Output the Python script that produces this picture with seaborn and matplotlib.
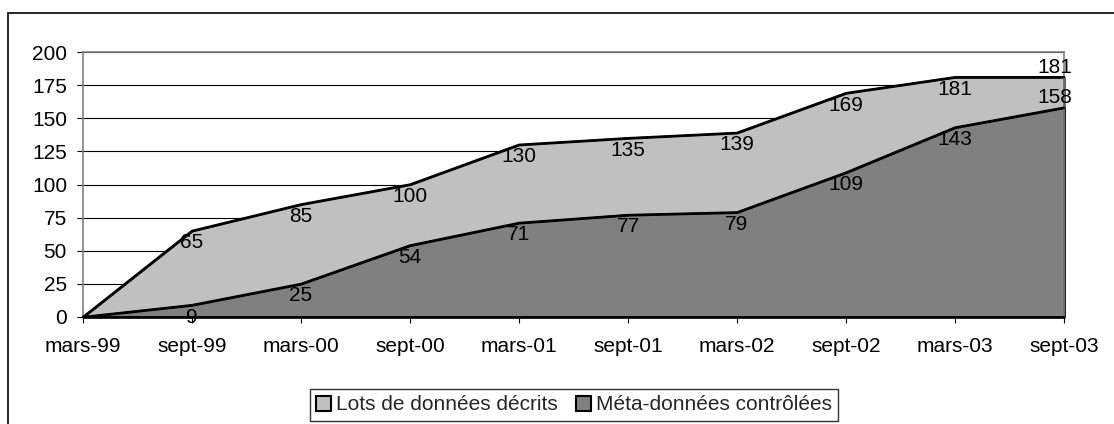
import matplotlib
matplotlib.use('Agg')
import matplotlib.pyplot as plt
import matplotlib.patches as mpatches
import seaborn as sns
import pandas as pd

# data
periods = ['mars-99', 'sept-99', 'mars-00', 'sept-00', 'mars-01',
           'sept-01', 'mars-02', 'sept-02', 'mars-03', 'sept-03']
lots_decrits = [0, 65, 85, 100, 130, 135, 139, 169, 181, 181]
meta_controlees = [0, 9, 25, 54, 71, 77, 79, 109, 143, 158]
series_names = ['Lots de données décrits', 'Méta-données contrôlées']
series_colors = ['#C0C0C0', '#808080']
y_ticks = list(range(0, 201, 25))

df = pd.DataFrame({'pos': range(len(periods)), 'periode': periods,
                   series_names[0]: lots_decrits,
                   series_names[1]: meta_controlees})
long_df = df.melt(id_vars=['pos', 'periode'], var_name='serie', value_name='valeur')

sns.set_theme(style='white')
plt.rcParams['font.family'] = ['Liberation Sans', 'DejaVu Sans']
FS = 15

W, H = 1114, 424
fig = plt.figure(figsize=(W / 100, H / 100), dpi=100)
ax = fig.add_axes([83 / W, 1 - 317 / H, (1064 - 83) / W, (317 - 52) / H])

# outer chart frame (runs off the right and bottom edges)
fig.patches.append(mpatches.Rectangle((8 / W, -0.05), 1.2, 1 - 13 / H + 0.05,
                                      transform=fig.transFigure, fill=False,
                                      edgecolor='black', linewidth=1.2, zorder=0))

# gridlines behind areas
for t in y_ticks[1:]:
    ax.axhline(t, color='black', linewidth=0.8, zorder=1)

for name, col in zip(series_names, series_colors):
    ax.fill_between(df['pos'], df[name], 0, facecolor=col, edgecolor='black',
                    linewidth=1.6, zorder=2, clip_on=False)

sns.lineplot(data=long_df, x='pos', y='valeur', hue='serie',
             palette=['black', 'black'], linewidth=1.6, legend=False,
             ax=ax, zorder=3, clip_on=False)

# value labels
n = len(periods)
for name in series_names:
    for i, v in enumerate(df[name]):
        if v == 0:
            continue
        if i == n - 1:
            off = (-9, 10)
        else:
            off = (0, -12)
        ax.annotate(str(v), (i, v), textcoords='offset pixels', xytext=off,
                    ha='center', va='center', fontsize=FS, color='black', zorder=4)

ax.set_xlim(0, n - 1)
ax.set_ylim(0, 200)
ax.set_xticks(range(n))
ax.set_xticklabels(periods)
ax.set_yticks(y_ticks)
ax.set_xlabel('')
ax.set_ylabel('')
ax.tick_params(axis='both', which='both', direction='out', length=4.5, width=0.8,
               labelsize=FS, colors='black', bottom=True, left=True)
ax.tick_params(axis='y', pad=7)
ax.tick_params(axis='x', pad=10)

for side in ['top', 'right', 'left']:
    ax.spines[side].set_color('#808080')
    ax.spines[side].set_linewidth(1.2)
ax.spines['bottom'].set_color('black')
ax.spines['bottom'].set_linewidth(1.2)

handles = [mpatches.Patch(facecolor=c, edgecolor='black', linewidth=1.5, label=l)
           for c, l in zip(series_colors, series_names)]
leg = fig.legend(handles=handles, loc='center', bbox_to_anchor=(574 / W, 1 - 405 / H),
                 ncol=2, fontsize=FS, frameon=True, fancybox=False,
                 handlelength=0.7, handleheight=0.7, handletextpad=0.25,
                 columnspacing=0.9, borderpad=0.3, borderaxespad=0)
leg.get_frame().set_edgecolor('black')
leg.get_frame().set_linewidth(1.0)

fig.savefig('out.png', dpi=100)
